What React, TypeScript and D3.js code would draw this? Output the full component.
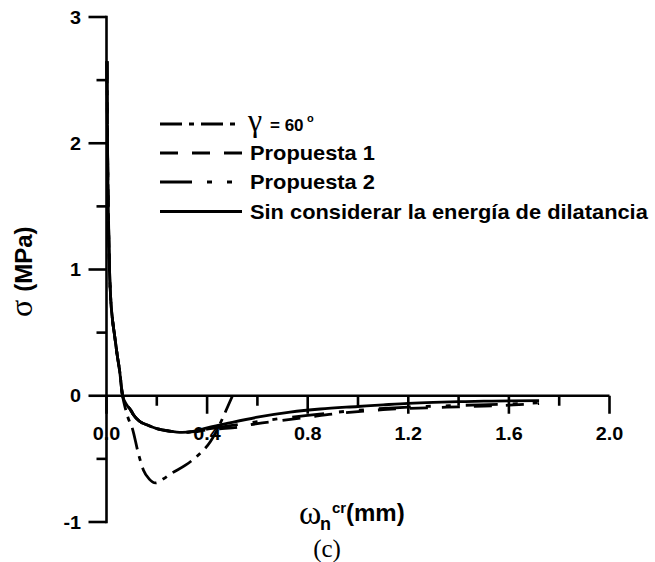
import React from 'react';
import * as d3 from 'd3';

// crack opening (mm) and stress (MPa)
const wSin = [0.002, 0.004, 0.007, 0.012, 0.017, 0.024, 0.032, 0.042, 0.052, 0.064, 0.08, 0.095, 0.107, 0.13, 0.16, 0.2, 0.25, 0.3, 0.35, 0.4, 0.49, 0.6, 0.73, 0.85, 1.0, 1.1, 1.2, 1.3, 1.4, 1.5, 1.6, 1.72];
const sSin = [2.65, 2.0, 1.5, 1.0, 0.76, 0.6, 0.48, 0.33, 0.2, 0.0, -0.07, -0.11, -0.15, -0.2, -0.23, -0.26, -0.28, -0.29, -0.28, -0.255, -0.215, -0.17, -0.13, -0.105, -0.085, -0.072, -0.06, -0.052, -0.047, -0.043, -0.04, -0.038];

const wProp1 = [0.002, 0.004, 0.007, 0.012, 0.017, 0.024, 0.032, 0.042, 0.052, 0.064, 0.08, 0.095, 0.107, 0.13, 0.16, 0.2, 0.25, 0.3, 0.35, 0.4, 0.45, 0.52, 0.6, 0.68, 0.8, 0.9, 1.0, 1.1, 1.2, 1.3, 1.4, 1.5, 1.6, 1.72];
const sProp1 = [2.65, 2.0, 1.5, 1.0, 0.76, 0.6, 0.48, 0.33, 0.2, 0.0, -0.07, -0.11, -0.15, -0.2, -0.23, -0.26, -0.28, -0.29, -0.285, -0.27, -0.262, -0.25, -0.22, -0.2, -0.17, -0.145, -0.125, -0.11, -0.1, -0.094, -0.088, -0.082, -0.075, -0.062];

const wProp2 = [0.002, 0.004, 0.007, 0.012, 0.017, 0.024, 0.032, 0.042, 0.052, 0.064, 0.08, 0.095, 0.107, 0.13, 0.16, 0.2, 0.25, 0.3, 0.35, 0.4, 0.5, 0.6, 0.7, 0.8, 1.0, 1.2, 1.4, 1.6, 1.72];
const sProp2 = [2.65, 2.0, 1.5, 1.0, 0.76, 0.6, 0.48, 0.33, 0.2, 0.0, -0.07, -0.11, -0.15, -0.2, -0.23, -0.26, -0.28, -0.29, -0.283, -0.265, -0.235, -0.205, -0.178, -0.155, -0.115, -0.09, -0.077, -0.066, -0.055];

const wGamma = [0.002, 0.004, 0.007, 0.012, 0.017, 0.024, 0.032, 0.042, 0.052, 0.064, 0.075, 0.085, 0.103, 0.127, 0.147, 0.17, 0.195, 0.225, 0.254, 0.314, 0.362, 0.414, 0.445, 0.473, 0.501];
const sGamma = [2.65, 2.0, 1.5, 1.0, 0.76, 0.6, 0.48, 0.33, 0.2, 0.0, -0.1, -0.17, -0.26, -0.46, -0.59, -0.66, -0.69, -0.66, -0.62, -0.55, -0.475, -0.36, -0.25, -0.127, 0.0];

const xTicks = [0, 0.4, 0.8, 1.2, 1.6, 2.0];
const xTickLabels = ['0.0', '0.4', '0.8', '1.2', '1.6', '2.0'];
const xMinor = [0.2, 0.6, 1.0, 1.4, 1.8];
const yTicks = [-1, 0, 1, 2, 3];
const yTickLabels = ['-1', '0', '1', '2', '3'];
const yMinor = [-0.5, 0.5, 1.5, 2.5];

const legendLabels = ['Propuesta 1', 'Propuesta 2', 'Sin considerar la energía de dilatancia'];

const SANS = 'Liberation Sans, Arial, sans-serif';
const SERIF = 'Liberation Serif, Times New Roman, serif';
const SX = 1.1;

const dashes = {
  gamma: '22,7,5,7',
  prop1: '18,14',
  prop2: '32,15,5,15,5,15',
  sin: 'none',
};

export default function App() {
  const width = 655;
  const height = 562;
  const x = d3.scaleLinear().domain([0, 2]).range([106.5, 609.5]);
  const y = d3.scaleLinear().domain([-1, 3]).range([522, 17]);

  const line = d3.line<[number, number]>()
    .x(d => x(d[0]))
    .y(d => y(d[1]))
    .curve(d3.curveMonotoneX);

  const pts = (w: number[], s: number[]) => w.map((v, i) => [v, s[i]] as [number, number]);

  const series = [
    { key: 'sin', d: line(pts(wSin, sSin)), dash: dashes.sin },
    { key: 'prop1', d: line(pts(wProp1, sProp1)), dash: dashes.prop1 },
    { key: 'prop2', d: line(pts(wProp2, sProp2)), dash: dashes.prop2 },
    { key: 'gamma', d: line(pts(wGamma, sGamma)), dash: dashes.gamma },
  ];

  const y0 = y(0);
  const axisX = x(0);

  // legend rows
  const legX1 = 160;
  const legX2 = 242;
  const legText = 250;
  const rowBase = [131, 160, 189, 218.5];
  const legDash = [dashes.gamma, dashes.prop1, dashes.prop2, dashes.sin];

  return (
    <svg width={width} height={height} style={{ position: 'absolute', left: 0, top: 0, background: '#fff' }}>
      {/* curves */}
      {series.map(s => (
        <path key={s.key} d={s.d ?? ''} fill="none" stroke="#000" strokeWidth={2.8}
          strokeDasharray={s.dash} strokeLinejoin="round" />
      ))}

      {/* y axis */}
      <line x1={axisX} x2={axisX} y1={y(3)} y2={y(-1)} stroke="#000" strokeWidth={2.6} strokeLinecap="square" />
      {yTicks.map((t, i) => (
        <g key={'yt' + t}>
          <line x1={axisX - 18} x2={axisX} y1={y(t)} y2={y(t)} stroke="#000" strokeWidth={2.6} />
          <text transform={`translate(81,${y(t) + 6.5}) scale(${SX},1)`} textAnchor="end"
            fontFamily={SANS} fontWeight="bold" fontSize={18}>{yTickLabels[i]}</text>
        </g>
      ))}
      {yMinor.map(t => (
        <line key={'ym' + t} x1={axisX - 10} x2={axisX} y1={y(t)} y2={y(t)} stroke="#000" strokeWidth={2.6} />
      ))}

      {/* x axis at zero */}
      <line x1={axisX} x2={x(2)} y1={y0} y2={y0} stroke="#000" strokeWidth={2.6} />
      {xTicks.map((t, i) => (
        <g key={'xt' + t}>
          <line x1={x(t)} x2={x(t)} y1={y0} y2={y0 + 18} stroke="#000" strokeWidth={2.6} />
          <text transform={`translate(${x(t)},440) scale(${SX},1)`} textAnchor="middle"
            fontFamily={SANS} fontWeight="bold" fontSize={18}>{xTickLabels[i]}</text>
        </g>
      ))}
      {xMinor.map(t => (
        <line key={'xm' + t} x1={x(t)} x2={x(t)} y1={y0} y2={y0 + 10} stroke="#000" strokeWidth={2.6} />
      ))}

      {/* axis titles */}
      <text transform="translate(32,317) rotate(-90)" fontWeight="bold">
        <tspan fontFamily={SERIF} fontWeight="normal" fontSize={32}>σ</tspan>
        <tspan fontFamily={SANS} fontSize={24} dx={8}>(MPa)</tspan>
      </text>
      <text fontWeight="bold">
        <tspan x={299} y={524} fontFamily={SERIF} fontWeight="normal" fontSize={34}>ω</tspan>
        <tspan x={320} y={530} fontFamily={SANS} fontSize={18}>n</tspan>
        <tspan x={332} y={513} fontFamily={SANS} fontSize={15}>cr</tspan>
        <tspan x={346} y={521} fontFamily={SANS} fontSize={24}>(mm)</tspan>
      </text>
      <text x={327} y={557} textAnchor="middle" fontFamily={SERIF} fontSize={25}>(c)</text>

      {/* legend */}
      {rowBase.map((b, i) => (
        <line key={'lg' + i} x1={legX1} x2={legX2} y1={b - 7} y2={b - 7} stroke="#000" strokeWidth={2.8}
          strokeDasharray={legDash[i]} />
      ))}
      <text y={rowBase[0]} fontWeight="bold" fontFamily={SANS}>
        <tspan x={legText - 2} fontFamily={SERIF} fontWeight="normal" fontSize={32}>γ</tspan>
        <tspan x={270} fontSize={17}>= 60</tspan>
        <tspan x={307} dy={-9} fontSize={11}>o</tspan>
      </text>
      {legendLabels.map((l, i) => (
        <text key={l} transform={`translate(${legText},${rowBase[i + 1]}) scale(1.12,1)`}
          fontFamily={SANS} fontWeight="bold" fontSize={19.5}>{l}</text>
      ))}
    </svg>
  );
}
